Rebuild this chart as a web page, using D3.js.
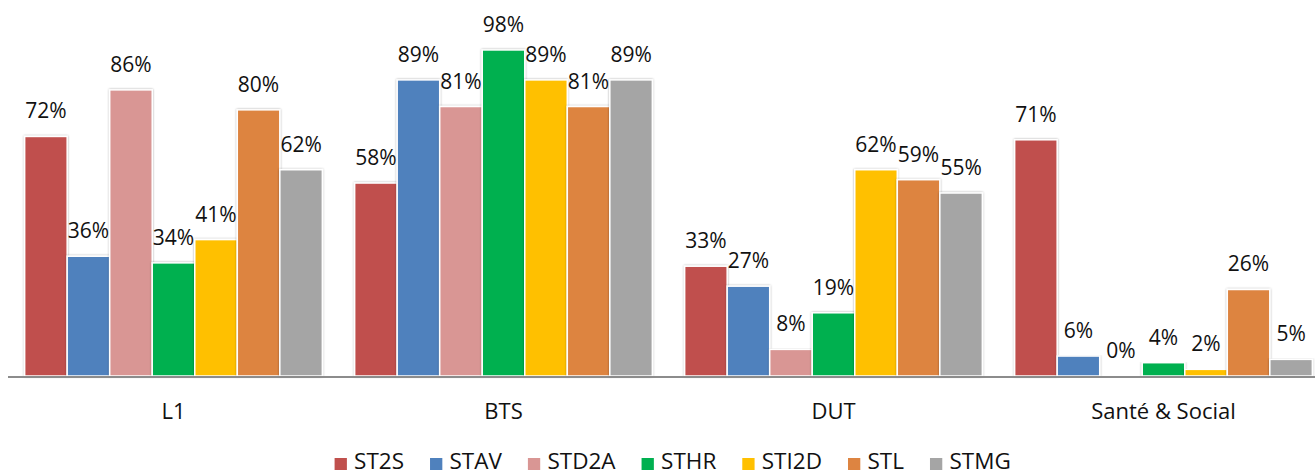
<!DOCTYPE html>
<html>
<head>
<meta charset="utf-8">
<script src="https://d3js.org/d3.v7.min.js"></script>
<style>
  body { margin: 0; background: #fff; }
  svg text { font-family: "Open Sans", "Noto Sans", sans-serif; fill: #111; }
</style>
</head>
<body>
<svg id="canvas"></svg>
<script>
var w = 1315;
var h = 476;

var categories = ["L1", "BTS", "DUT", "Santé & Social"];
var series = ["ST2S", "STAV", "STD2A", "STHR", "STI2D", "STL", "STMG"];
var colors = ["#C0504D", "#4F81BD", "#D99694", "#00B050", "#FFC000", "#DD8441", "#A5A5A5"];
// percentages per series, in category order
var ST2S  = [72, 58, 33, 71];
var STAV  = [36, 89, 27, 6];
var STD2A = [86, 81, 8, 0];
var STHR  = [34, 98, 19, 4];
var STI2D = [41, 89, 62, 2];
var STL   = [80, 81, 59, 26];
var STMG  = [62, 89, 55, 5];
var values = [ST2S, STAV, STD2A, STHR, STI2D, STL, STMG];

var svg = d3.select("#canvas")
  .attr("width", w)
  .attr("height", h)
  .attr("viewBox", [0, 0, w, h]);

var defs = svg.append("defs");
var f = defs.append("filter").attr("id", "shadow")
  .attr("x", "-20%").attr("y", "-5%").attr("width", "140%").attr("height", "110%");
f.append("feDropShadow").attr("dx", 0).attr("dy", 0).attr("stdDeviation", 1.2)
  .attr("flood-color", "#000").attr("flood-opacity", 0.35);

var x0 = d3.scaleBand().domain(categories).range([8.5, 1328.5]);
var x1 = d3.scaleBand().domain(series).range([0, x0.bandwidth()])
  .paddingInner(0).paddingOuter(0.38);
var y = d3.scaleLinear().domain([0, 100]).range([376, 43.3]);

var rows = [];
series.forEach(function (s, i) {
  categories.forEach(function (c, j) {
    rows.push({ s: s, c: c, v: values[i][j], color: colors[i] });
  });
});

var bars = svg.append("g");
bars.selectAll("rect")
  .data(rows.filter(d => d.v > 0))
  .enter()
  .append("rect")
  .attr("x", d => x0(d.c) + x1(d.s))
  .attr("y", d => y(d.v))
  .attr("width", x1.bandwidth())
  .attr("height", d => y(0) - y(d.v))
  .attr("fill", d => d.color)
  .attr("stroke", "#fff")
  .attr("stroke-width", 1.5)
  .attr("filter", "url(#shadow)");

// axis line
svg.append("line")
  .attr("x1", 8).attr("x2", w)
  .attr("y1", 377).attr("y2", 377)
  .attr("stroke", "#8c8c8c").attr("stroke-width", 2);

// data labels
svg.append("g").selectAll("text")
  .data(rows)
  .enter()
  .append("text")
  .attr("x", d => x0(d.c) + x1(d.s) + x1.bandwidth() / 2)
  .attr("y", d => y(d.v) - 18)
  .attr("text-anchor", "middle")
  .style("font-size", "21px")
  .text(d => d.v + "%");

// category labels
svg.append("g").selectAll("text")
  .data(categories)
  .enter()
  .append("text")
  .attr("x", d => x0(d) + x0.bandwidth() / 2)
  .attr("y", 419)
  .attr("text-anchor", "middle")
  .style("font-size", "22px")
  .text(d => d);

// legend
var legend = svg.append("g");
var items = legend.selectAll("g")
  .data(series)
  .enter()
  .append("g");
items.append("rect")
  .attr("width", 12.3).attr("height", 12)
  .attr("y", 458)
  .attr("fill", (d, i) => colors[i]);
items.append("text")
  .attr("x", 19.5)
  .attr("y", 469)
  .style("font-size", "22.5px")
  .text(d => d);
var pos = 0;
var offsets = [];
items.each(function () {
  offsets.push(pos);
  var tw = d3.select(this).select("text").node().getComputedTextLength();
  pos += 19.5 + tw + 26;
});
var total = pos - 26;
var start = 672.7 - total / 2;
items.attr("transform", (d, i) => "translate(" + (start + offsets[i]) + ",0)");
</script>
</body>
</html>
